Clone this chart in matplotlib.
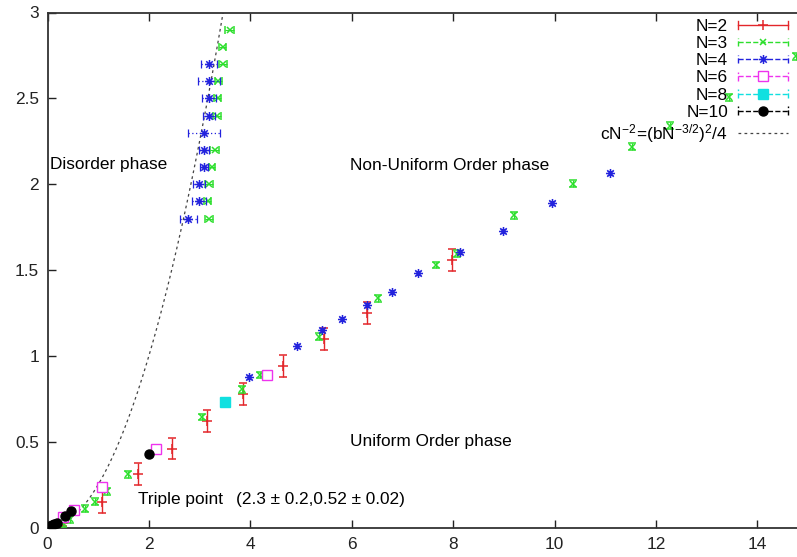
import matplotlib
matplotlib.use('Agg')
import matplotlib.pyplot as plt
import numpy as np
from matplotlib.path import Path
from matplotlib.lines import Line2D
from matplotlib.legend_handler import HandlerBase
from matplotlib.ticker import FormatStrFormatter

plt.rcParams['font.family'] = ['Liberation Sans', 'DejaVu Sans']
FS = 12.4
plt.rcParams['font.size'] = FS

# ---------------- data ----------------
# N=2 (red, vertical error bars)
n2_x = [0.31, 1.07, 1.79, 2.45, 3.14, 3.86, 4.65, 5.45, 6.30, 7.98]
n2_y = [0.025, 0.15, 0.31, 0.46, 0.62, 0.78, 0.94, 1.10, 1.25, 1.56]
n2_yerr = [0.015, 0.064, 0.064, 0.063, 0.063, 0.064, 0.063, 0.064, 0.064, 0.063]

# N=3 (green) uniform branch, small vertical error bars
n3_x = [0.08, 0.31, 0.45, 0.74, 0.94, 1.18, 1.59, 3.04, 3.83, 4.19, 5.36,
        6.51, 7.66, 8.07, 9.21, 10.36, 11.52, 12.28, 13.45, 14.76]
n3_y = [0.0, 0.025, 0.047, 0.11, 0.15, 0.21, 0.31, 0.644, 0.806, 0.888, 1.112,
        1.334, 1.529, 1.594, 1.818, 2.003, 2.217, 2.340, 2.506, 2.744]
n3_yerr = 0.02
# N=3 disorder boundary, horizontal error bars
n3d_x = [3.19, 3.16, 3.19, 3.24, 3.30, 3.34, 3.36, 3.37, 3.47, 3.46, 3.59]
n3d_y = [1.8, 1.9, 2.0, 2.1, 2.2, 2.4, 2.5, 2.6, 2.7, 2.8, 2.9]
n3d_xerr = [0.08, 0.07, 0.08, 0.06, 0.09, 0.08, 0.07, 0.07, 0.08, 0.07, 0.09]

# N=4 (blue) uniform branch
n4_x = [3.97, 4.92, 5.41, 5.80, 6.30, 6.79, 7.30, 8.14, 8.99, 9.96, 11.09]
n4_y = [0.876, 1.057, 1.151, 1.217, 1.297, 1.373, 1.48, 1.603, 1.726, 1.892, 2.065]
n4_yerr = 0.012
# N=4 disorder boundary
n4d_x = [2.78, 2.99, 2.99, 3.09, 3.09, 3.09, 3.19, 3.19, 3.19, 3.19]
n4d_y = [1.8, 1.9, 2.0, 2.1, 2.2, 2.3, 2.4, 2.5, 2.6, 2.7]
n4d_xerr = [0.16, 0.14, 0.12, 0.08, 0.10, 0.31, 0.12, 0.14, 0.22, 0.16]

# N=6 (magenta)
n6_x = [0.31, 0.52, 1.07, 2.14, 4.32]
n6_y = [0.063, 0.10, 0.235, 0.457, 0.888]
n6_yerr = 0.01

# N=8 (cyan)
n8_x = [3.50]
n8_y = [0.732]

# N=10 (black)
n10_x = [0.0, 0.04, 0.08, 0.12, 0.18, 0.35, 0.47, 2.0]
n10_y = [0.0, 0.006, 0.012, 0.018, 0.025, 0.065, 0.095, 0.428]
n10_yerr = 0.01

labels = ['N=2', 'N=3', 'N=4', 'N=6', 'N=8', 'N=10']
theory_label = r'$\mathregular{cN^{-2}\!=\!(bN^{-3/2})^{2}/4}$'

x_ticks = [0, 2, 4, 6, 8, 10, 12, 14]
y_ticks = [0, 0.5, 1, 1.5, 2, 2.5, 3]

# ---------------- styles ----------------
RED = '#e3262a'
GREEN = '#2ddf2d'
BLUE = '#2222dd'
MAG = '#ee33ee'
CYAN = '#11e0e0'
BLACK = '#000000'

ast = Path([(-1, 0), (1, 0), (0, -1), (0, 1),
            (-0.72, -0.72), (0.72, 0.72), (-0.72, 0.72), (0.72, -0.72)],
           [Path.MOVETO, Path.LINETO] * 4)

fig = plt.figure(figsize=(7.97, 5.57), dpi=100)
ax = fig.add_axes([47.5 / 797, 29.5 / 557, (808 - 47.5) / 797, (527.5 - 12.5) / 557])
ax.set_xlim(0, 15)
ax.set_ylim(0, 3)

# theory curve c = b^2/4
bx = np.linspace(0, 3.47, 300)
ax.plot(bx, bx ** 2 / 4, ls=(0, (2.2, 2.6)), color='#444444', lw=0.9, zorder=2)

cap = 3.2
ax.errorbar(n2_x, n2_y, yerr=n2_yerr, fmt='+', color=RED, ms=7, mew=1.1,
            elinewidth=1.0, capsize=cap, capthick=1.0, zorder=3)
ax.errorbar(n3_x, n3_y, yerr=n3_yerr, fmt='x', color=GREEN, ms=5, mew=1.1,
            elinewidth=0.8, capsize=2.6, capthick=0.9, zorder=4)
ax.errorbar(n3d_x, n3d_y, xerr=n3d_xerr, fmt='x', color=GREEN, ms=5, mew=1.1,
            elinewidth=0.8, capsize=2.6, capthick=0.9, zorder=4)
ax.errorbar(n4_x, n4_y, yerr=n4_yerr, fmt='none', ecolor=BLUE,
            elinewidth=0.8, capsize=2.4, capthick=0.8, zorder=5)
ax.plot(n4_x, n4_y, ls='none', marker=ast, color=BLUE, ms=6.5, mew=1.1, mfc='none', zorder=5)
eb4d = ax.errorbar(n4d_x, n4d_y, xerr=n4d_xerr, fmt='none', ecolor=BLUE,
                   elinewidth=0.9, capsize=2.6, capthick=0.9, zorder=5)
for c in eb4d[2]:
    c.set_linestyle((0, (1, 2)))
ax.plot(n4d_x, n4d_y, ls='none', marker=ast, color=BLUE, ms=6.5, mew=1.1, mfc='none', zorder=5)
ax.errorbar(n6_x, n6_y, yerr=n6_yerr, fmt='s', color=MAG, ms=6.5, mew=1.0, mfc='white',
            elinewidth=0.8, capsize=1.5, zorder=6)
ax.plot(n8_x, n8_y, ls='none', marker='s', color=CYAN, ms=7, zorder=7)
ax.errorbar(n10_x, n10_y, yerr=n10_yerr, fmt='o', color=BLACK, ms=6.5,
            elinewidth=0.8, capsize=1.5, zorder=8)

# ---------------- text ----------------
ax.text(0.05, 2.114, 'Disorder phase', va='center', ha='left', fontsize=FS)
ax.text(5.97, 2.108, 'Non-Uniform Order phase', va='center', ha='left', fontsize=FS)
ax.text(5.97, 0.50, 'Uniform Order phase', va='center', ha='left', fontsize=FS)
ax.text(1.79, 0.161, 'Triple point', va='center', ha='left', fontsize=FS)
ax.text(3.72, 0.161, '(2.3 \u00b1 0.2,0.52 \u00b1 0.02)', va='center', ha='left', fontsize=FS)

# ---------------- axes ----------------
ax.set_xticks(x_ticks)
ax.set_yticks(y_ticks)
ax.yaxis.set_major_formatter(FormatStrFormatter('%g'))
ax.tick_params(direction='in', top=True, right=True, length=6, width=1.0,
               labelsize=FS, colors='#222222')
ax.tick_params(axis='x', pad=7)
ax.tick_params(axis='y', pad=6)
for s in ax.spines.values():
    s.set_linewidth(1.3)
    s.set_color('#333333')


# ---------------- legend (gnuplot style) ----------------
class GnuHandler(HandlerBase):
    def create_artists(self, legend, orig_handle, xdescent, ydescent, width, height,
                       fontsize, trans):
        y = height / 2.0 - ydescent
        x0 = -xdescent
        x1 = -xdescent + width
        col = orig_handle.get_color()
        ls = orig_handle.get_linestyle()
        lw = orig_handle.get_linewidth()
        arts = [Line2D([x0, x1], [y, y], color=col, ls=ls, lw=lw)]
        arts.append(Line2D([x0, x0], [y - 3, y + 3], color=col, ls=ls, lw=lw))
        arts.append(Line2D([x1, x1], [y - 3, y + 3], color=col, ls=ls, lw=lw))
        arts.append(Line2D([(x0 + x1) / 2.0], [y], ls='none', marker=orig_handle.get_marker(),
                           color=col, ms=orig_handle.get_markersize(),
                           mew=orig_handle.get_markeredgewidth(),
                           mfc=orig_handle.get_markerfacecolor()))
        for a in arts:
            a.set_transform(trans)
        return arts


h2 = Line2D([], [], color=RED, ls='-', lw=1.0, marker='+', ms=7, mew=1.1)
h3 = Line2D([], [], color=GREEN, ls=(0, (3, 3)), lw=1.0, marker='x', ms=5, mew=1.1)
h4 = Line2D([], [], color=BLUE, ls=(0, (1, 2)), lw=1.0, marker=ast, ms=6.5, mew=1.1, mfc='none')
h6 = Line2D([], [], color=MAG, ls=(0, (1, 1)), lw=1.0, marker='s', ms=6.5, mew=1.0, mfc='white')
h8 = Line2D([], [], color=CYAN, ls=(0, (4, 2, 1, 2)), lw=1.0, marker='s', ms=7)
h10 = Line2D([], [], color=BLACK, ls=(0, (3, 3)), lw=1.0, marker='o', ms=6.5)
ht = Line2D([], [], color='#444444', ls=(0, (2.2, 2.6)), lw=0.9)

gh = GnuHandler()
handles = [h2, h3, h4, h6, h8, h10, ht]
leg = fig.legend(handles, labels + [theory_label], loc='upper right',
                 bbox_to_anchor=(788 / 797, 1 - 19 / 557), bbox_transform=fig.transFigure,
                 frameon=False, markerfirst=False, borderaxespad=0, borderpad=0,
                 handlelength=2.9, handletextpad=0.58, labelspacing=0.12, fontsize=FS,
                 handler_map={h2: gh, h3: gh, h4: gh, h6: gh, h8: gh, h10: gh})
for t in leg.get_texts():
    t.set_ha('right')

fig.savefig('out.png', dpi=100)
